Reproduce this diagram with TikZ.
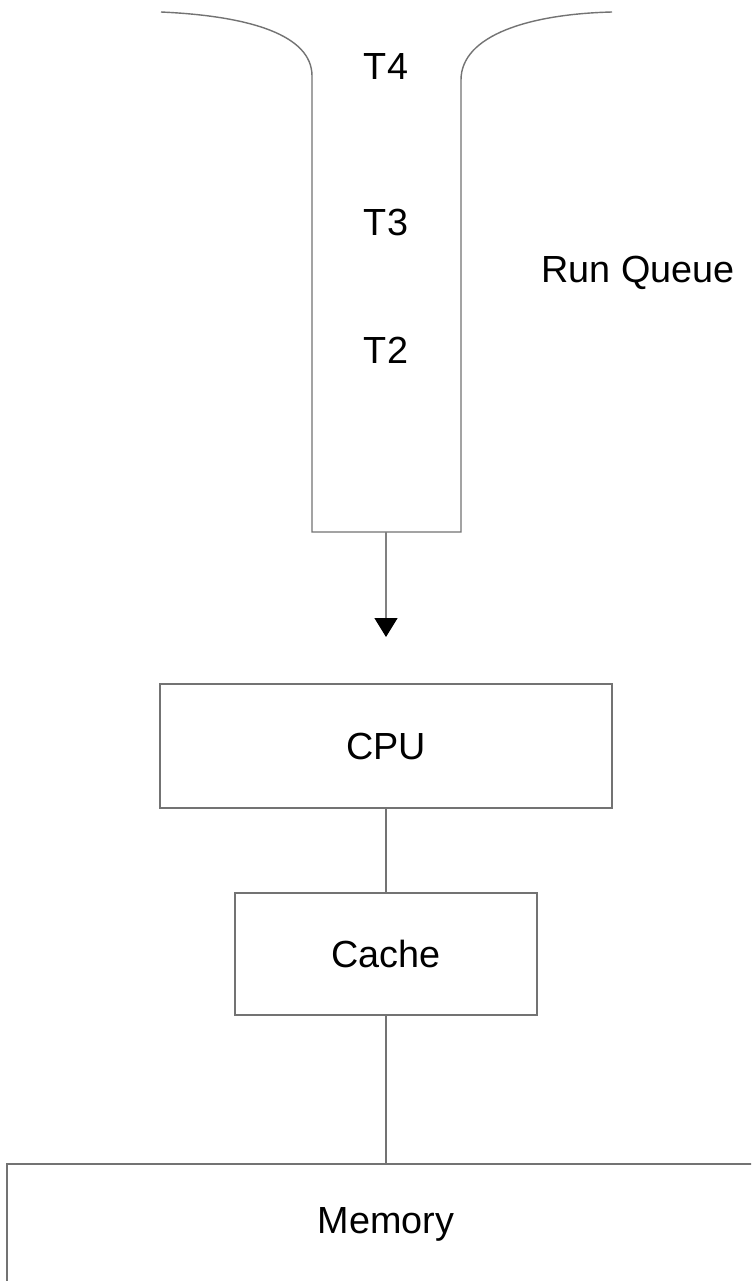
\documentclass[tikz,border=0pt]{standalone}
\usepackage{fontspec}
\setmainfont{Liberation Sans}
\usetikzlibrary{positioning,arrows.meta}

\begin{document}
\begin{tikzpicture}[
 x=0.02cm,y=-0.02cm,
 wire/.style={draw=black!55,line width=0.8pt},
 unit/.style={rectangle,draw=black!55,line width=0.8pt,fill=white,inner sep=0pt,font=\fontsize{21.5}{26}\selectfont},
 lab/.style={font=\fontsize{21.5}{26}\selectfont,inner sep=0pt},
 feed/.style={-{Triangle[width=4.6mm,length=3.8mm,black]},draw=black!50,line width=0.8pt}
]
\clip (0,0) rectangle (751,1281);
\fill[white] (0,0) rectangle (751,1281);

% run queue funnel
\draw[wire] (161,12) .. controls (250,16) and (312,35) .. (312,76)
      -- (312,532) -- (461,532) -- (461,80)
      .. controls (461,35) and (530,14) .. (612,12);
\coordinate (qbot) at (386,532);
\coordinate (qtip) at (386,637);

\node[lab] (t4) at (386,67) {T4};
\node[lab] (t3) at (386,222) {T3};
\node[lab] (t2) at (386,350) {T2};
\node[lab] (rq) at (638,273) {Run Queue};

\draw[feed] (qbot) -- (qtip);

\node[unit,minimum width=9.04cm,minimum height=2.48cm] (cpu) at (386,746) {CPU};
\node[unit,minimum width=6.04cm,minimum height=2.44cm] (cache) at (386,954) {Cache};

\draw[wire] (7,1300) -- (7,1164) -- (770,1164);
\coordinate (memtop) at (386,1164);
\node[lab,anchor=base] (mem) at (386,1233) {Memory};

\draw[wire] (cpu) -- (cache);
\draw[wire] (cache) -- (memtop);
\end{tikzpicture}
\end{document}
